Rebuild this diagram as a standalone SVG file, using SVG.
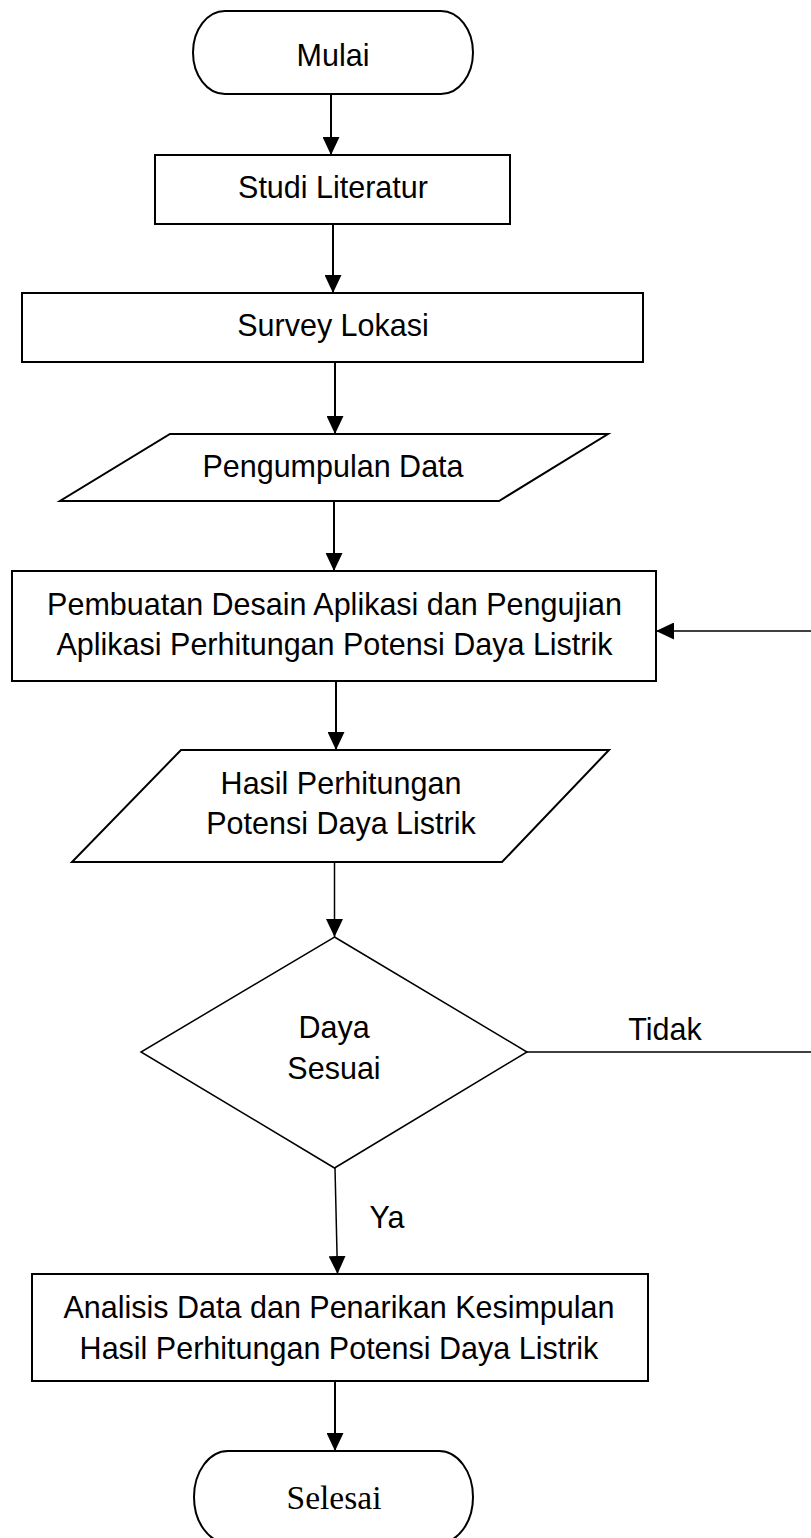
<svg xmlns="http://www.w3.org/2000/svg" width="811" height="1538" viewBox="0 0 811 1538">
<style>
.shape{fill:#fff;stroke:#000;stroke-width:2}
.thin{fill:none;stroke:#000;stroke-width:1.5}
.line{fill:none;stroke:#000;stroke-width:2}
.t{font-family:"Liberation Sans",Arial,sans-serif;font-size:30.5px;fill:#000;text-anchor:middle}
.s{font-family:"Liberation Serif","Times New Roman",serif;font-size:33.5px;fill:#000;text-anchor:middle}
</style>
<defs>
<marker id="arr" markerUnits="userSpaceOnUse" markerWidth="18" markerHeight="17" refX="18" refY="8.5" orient="auto">
<path d="M0,0 L18,8.5 L0,17 z" fill="#000"/>
</marker>
</defs>
<rect width="811" height="1538" fill="#fff"/>
<g id="connectors">
<path class="line" d="M331,94 V155" marker-end="url(#arr)"/>
<path class="line" d="M333,224 V293" marker-end="url(#arr)"/>
<path class="line" d="M335,362 V434" marker-end="url(#arr)"/>
<path class="line" d="M334,501 V571" marker-end="url(#arr)"/>
<path class="line" d="M336,681 V750" marker-end="url(#arr)"/>
<path class="thin" d="M334.5,862 V937" marker-end="url(#arr)"/>
<path class="thin" d="M335,1168 L337.5,1274" marker-end="url(#arr)"/>
<path class="line" d="M335,1381 V1451" marker-end="url(#arr)"/>
<path class="thin" d="M527,1052 H830 V631 H656" marker-end="url(#arr)"/>
<text class="t" x="665" y="1040">Tidak</text>
<text class="t" x="387" y="1228">Ya</text>
</g>
<g id="mulai">
<rect class="shape" x="193" y="11" width="280" height="83" rx="32" ry="41.5"/>
<text class="t" x="333" y="66">Mulai</text>
</g>
<g id="studi">
<rect class="shape" x="155" y="155" width="355" height="69"/>
<text class="t" x="333" y="198">Studi Literatur</text>
</g>
<g id="survey">
<rect class="shape" x="22" y="293" width="621" height="69"/>
<text class="t" x="333" y="336">Survey Lokasi</text>
</g>
<g id="pengumpulan">
<polygon class="shape" points="170,434 608,434 499,501 60,501"/>
<text class="t" x="333" y="477">Pengumpulan Data</text>
</g>
<g id="pembuatan">
<rect class="shape" x="12" y="571" width="644" height="110"/>
<text class="t" x="334.5" y="615">Pembuatan Desain Aplikasi dan Pengujian</text>
<text class="t" x="334.5" y="655">Aplikasi Perhitungan Potensi Daya Listrik</text>
</g>
<g id="hasil">
<polygon class="shape" points="181,750 609,750 502,862 72,862"/>
<text class="t" x="341" y="794">Hasil Perhitungan</text>
<text class="t" x="341" y="834">Potensi Daya Listrik</text>
</g>
<g id="decision">
<polygon class="shape" style="stroke-width:1.5" points="334.5,937 527,1052 334.5,1168 141,1052"/>
<text class="t" x="334" y="1038">Daya</text>
<text class="t" x="334" y="1079">Sesuai</text>
</g>
<g id="analisis">
<rect class="shape" x="32" y="1274" width="616" height="107"/>
<text class="t" x="339" y="1318">Analisis Data dan Penarikan Kesimpulan</text>
<text class="t" x="339" y="1359">Hasil Perhitungan Potensi Daya Listrik</text>
</g>
<g id="selesai">
<rect class="shape" x="194" y="1451" width="279" height="92" rx="34" ry="46"/>
<text class="s" x="334" y="1509">Selesai</text>
</g>
</svg>
